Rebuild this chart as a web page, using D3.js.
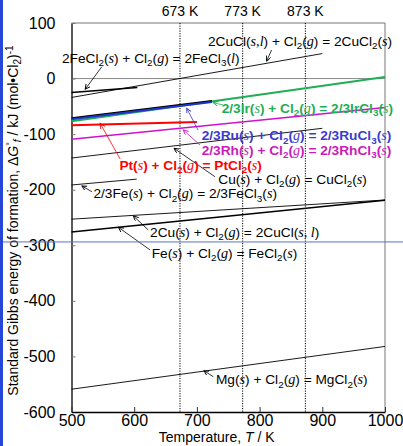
<!DOCTYPE html>
<html><head><meta charset="utf-8">
<script src="https://cdn.jsdelivr.net/npm/d3@7"></script>
<style>body{margin:0;background:#fff}svg{display:block}</style>
</head><body>
<svg id="chart" width="403" height="446"></svg>
<script>
// ---------- data ----------
const tempTicks = [500, 600, 700, 800, 900, 1000];
const gibbsTicks = [100, 0, -100, -200, -300, -400, -500, -600];
const refTemps = [673, 773, 873];
const refLabels = ["673 K", "773 K", "873 K"];

const reactions = ["CuCl-CuCl2", "FeCl2-FeCl3", "Ir", "Ru", "Pt", "Rh", "Cu-CuCl2", "Fe-FeCl3", "Cu-CuCl", "Fe-FeCl2", "Mg"];
const lineT = [[500, 900], [500, 605], [500, 1000], [500, 724], [500, 700], [500, 1000], [500, 900], [500, 604], [500, 1000], [500, 1000], [500, 1000]];
const lineG = [[-34, 45], [-25, -16], [-77, 3], [-73, -42], [-84, -78], [-109, -52], [-143, -89.5], [-191.5, -181], [-253, -218.5], [-276, -219], [-559, -482]];

const labelText = [
  "2CuCl([s,l]) + Cl_2([g]) = 2CuCl_2([s])",
  "2FeCl_2([s]) + Cl_2([g]) = 2FeCl_3([l])",
  "2/3Ir([s]) + Cl_2([g]) = 2/3IrCl_3([s])",
  "2/3Ru([s]) + Cl_2([g]) = 2/3RuCl_3([s])",
  "Pt([s]) + Cl_2([g]) = PtCl_2([s])",
  "2/3Rh([s]) + Cl_2([g]) = 2/3RhCl_3([s])",
  "Cu([s]) + Cl_2([g]) = CuCl_2([s])",
  "2/3Fe([s]) + Cl_2([g]) = 2/3FeCl_3([s])",
  "2Cu([s]) + Cl_2([g]) = 2CuCl([s, l])",
  "Fe([s]) + Cl_2([g]) = FeCl_2([s])",
  "Mg([s]) + Cl_2([g]) = MgCl_2([s])"
];
const labelT = [717.7, 484.7, 739.5, 707.6, 576.4, 707.6, 734.1, 535, 625.3, 628, 730.4];
const labelG = [67.6, 37.0, -52.1, -102.4, -155.5, -128.5, -180.7, -206.5, -275.6, -314.4, -541.2];
const arrowFromT = [819.1, 548.4, 741.9, 701.8, 577.6, 704.9, 728.8, 532.5, 622.6, 625.3, 726.1];
const arrowFromG = [51.4, 21.4, -47.6, -92.6, -144.7, -119.5, -176.6, -203.6, -272.5, -308.4, -536.5];
const arrowToT = [811.2, 521.8, 726.1, 683.8, 545.7, 678.3, 663.5, 516.6, 598.7, 574.8, 711.3];
const arrowToG = [31.6, -19.3, -43.4, -53.5, -80.5, -92.5, -125.5, -193.3, -247.3, -267.7, -525.7];

// ---------- styles ----------
const lineColor = ["#000", "#000", "#1fae55", "#2233cc", "#ff0000", "#d010d0", "#000", "#000", "#000", "#000", "#000"];
const lineWidth = [0.9, 1.6, 2, 2, 2, 1.5, 0.9, 0.9, 0.9, 1.6, 0.9];
const textColor = ["#000", "#000", "#1fae55", "#3b3bd0", "#ff0000", "#c81cb8", "#000", "#000", "#000", "#000", "#000"];
const textBold = [false, false, true, true, true, true, false, false, false, false, false];
const FONT = "Arial, 'Liberation Sans', sans-serif";
const SERIF = "'Times New Roman', 'Liberation Serif', serif";
const LABEL_SIZE = 13.7;

// ---------- layout ----------
const svg = d3.select("#chart");
const x = d3.scaleLinear().domain([500, 1000]).range([71.5, 385]);
const y = d3.scaleLinear().domain([100, -600]).range([23, 412]);

// left blue bar (frame artifact)
svg.append("rect").attr("x", 0).attr("y", 0).attr("width", 3).attr("height", 446).attr("fill", "#2646d8");

// frame top/right gray
svg.append("line").attr("x1", x(500)).attr("x2", x(1000)).attr("y1", y(100)).attr("y2", y(100)).attr("stroke", "#777").attr("stroke-width", 1);
svg.append("line").attr("x1", x(1000)).attr("x2", x(1000)).attr("y1", y(100)).attr("y2", y(-600)).attr("stroke", "#777").attr("stroke-width", 1);
// zero line
svg.append("line").attr("x1", x(500)).attr("x2", x(1000)).attr("y1", y(0)).attr("y2", y(0)).attr("stroke", "#888").attr("stroke-width", 1);

// reference temperature dotted lines
refTemps.forEach((t, i) => {
  svg.append("line").attr("x1", x(t)).attr("x2", x(t)).attr("y1", y(100)).attr("y2", y(-600))
    .attr("stroke", "#000").attr("stroke-width", 1).attr("stroke-dasharray", "1.2,1.3");
  svg.append("text").attr("x", x(t)).attr("y", 15.5).attr("text-anchor", "middle")
    .attr("font-family", FONT).attr("font-size", 14).text(refLabels[i]);
});

// axes
const yAxis = d3.axisLeft(y).tickValues(gibbsTicks).tickSizeInner(-4).tickSizeOuter(0).tickPadding(16).tickFormat(d => String(d));
const gy = svg.append("g").attr("transform", `translate(${x(500)},0)`).call(yAxis);
gy.select(".domain").attr("stroke", "#000").attr("stroke-width", 1.3);
gy.selectAll(".tick line").attr("stroke", "#777");
gy.selectAll(".tick text").attr("font-family", FONT).attr("font-size", 16).attr("fill", "#000");

const xAxis = d3.axisBottom(x).tickValues(tempTicks).tickSizeInner(-5).tickSizeOuter(0).tickPadding(3).tickFormat(d => String(d));
const gx = svg.append("g").attr("transform", `translate(0,${y(-600)})`).call(xAxis);
gx.select(".domain").attr("stroke", "#000").attr("stroke-width", 1.3);
gx.selectAll(".tick line").attr("stroke", "#333");
gx.selectAll(".tick text").attr("font-family", FONT).attr("font-size", 16).attr("fill", "#000");

// lines
const lineGen = d3.line().x(d => x(d[0])).y(d => y(d[1]));
const drawOrder = [10, 9, 8, 7, 6, 5, 4, 2, 3, 0, 1];
drawOrder.forEach(i => {
  const pts = lineT[i].map((t, k) => [t, lineG[i][k]]);
  if (reactions[i] === "Ru") {
    svg.append("path").attr("d", lineGen(pts.map(p => [p[0], p[1] + 1.8]))).attr("fill", "none").attr("stroke", "#000").attr("stroke-width", 2);
  }
  svg.append("path").attr("d", lineGen(pts)).attr("fill", "none")
    .attr("stroke", lineColor[i]).attr("stroke-width", lineWidth[i]);
});

// markers
const defs = svg.append("defs");
const colorsUsed = Array.from(new Set(textColor));
colorsUsed.forEach((c, k) => {
  defs.append("marker").attr("id", "ah" + k).attr("markerUnits", "userSpaceOnUse")
    .attr("markerWidth", 8).attr("markerHeight", 8).attr("refX", 5).attr("refY", 2.5).attr("orient", "auto")
    .append("path").attr("d", "M0,0 L5,2.5 L0,5").attr("fill", "none").attr("stroke", c).attr("stroke-width", 0.9);
});

// arrows
reactions.forEach((r, i) => {
  const k = colorsUsed.indexOf(textColor[i]);
  svg.append("line").attr("x1", x(arrowFromT[i])).attr("y1", y(arrowFromG[i]))
    .attr("x2", x(arrowToT[i])).attr("y2", y(arrowToG[i]))
    .attr("stroke", textColor[i]).attr("stroke-width", 0.8).attr("marker-end", `url(#ah${k})`);
});

// rich text helper
function rich(sel, str, size) {
  const parts = str.split(/(\[[^\]]+\]|_\d)/).filter(s => s.length);
  let shift = 0;
  parts.forEach(p => {
    const ts = sel.append("tspan");
    if (p.startsWith("[")) {
      ts.attr("font-family", SERIF).attr("font-style", "italic").attr("font-weight", "normal").attr("font-size", size + 0.5).text(p.slice(1, -1));
      if (shift) ts.attr("dy", -shift); shift = 0;
    } else if (p.startsWith("_")) {
      ts.attr("font-size", size * 0.72).attr("dy", 3.2 - shift).text(p.slice(1)); shift = 3.2;
    } else {
      ts.text(p); if (shift) ts.attr("dy", -shift); shift = 0;
    }
  });
}

// labels
reactions.forEach((r, i) => {
  const t = svg.append("text").attr("x", x(labelT[i])).attr("y", y(labelG[i]) + 5)
    .attr("font-family", FONT).attr("font-size", LABEL_SIZE).attr("fill", textColor[i])
    .attr("font-weight", textBold[i] ? "bold" : "normal");
  rich(t, labelText[i], LABEL_SIZE);
});

// axis titles
const xt = svg.append("text").attr("x", 216.7).attr("y", 442).attr("text-anchor", "middle")
  .attr("font-family", FONT).attr("font-size", 14);
xt.append("tspan").text("Temperature, ");
xt.append("tspan").attr("font-style", "italic").text("T");
xt.append("tspan").text(" / K");

const yt = svg.append("text").attr("transform", "translate(18.3,220.5) rotate(-90)").attr("text-anchor", "middle")
  .attr("font-family", FONT).attr("font-size", 14);
yt.append("tspan").text("Standard Gibbs energy of formation, Δ");
yt.append("tspan").attr("font-style", "italic").text("G");
yt.append("tspan").attr("font-size", 9).attr("dy", -5).text("°");
yt.append("tspan").attr("font-size", 10).attr("font-style", "italic").attr("dy", 8).text("f");
yt.append("tspan").attr("dy", -3).text(" / kJ (mol•Cl");
yt.append("tspan").attr("font-size", 10).attr("dy", 3).text("2");
yt.append("tspan").attr("dy", -3).text(")");
yt.append("tspan").attr("font-size", 10).attr("dy", -5).text("-1");

// horizontal blue artifact line
svg.append("line").attr("x1", 3).attr("x2", 403).attr("y1", y(-294)).attr("y2", y(-294))
  .attr("stroke", "#5872c6").attr("stroke-width", 1);
</script>
</body></html>
